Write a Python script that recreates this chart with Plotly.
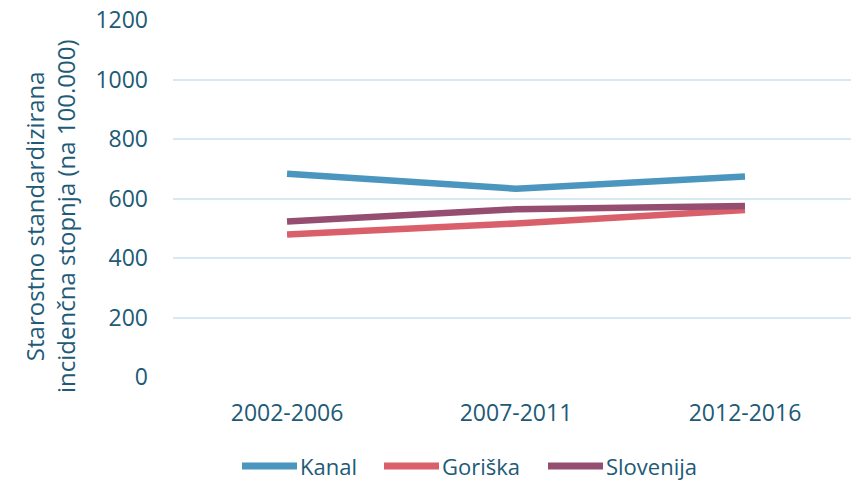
import plotly.graph_objects as go

categories = ["2002-2006", "2007-2011", "2012-2016"]
kanal = [683, 633, 674]
goriska = [479, 516, 561]
slovenija = [523, 564, 575]
series_names = ["Kanal", "Goriška", "Slovenija"]
series_colors = ["#4a96be", "#d9606a", "#954e70"]
y_ticks = [0, 200, 400, 600, 800, 1000, 1200]

FONT = "Open Sans"
TXT = "#215a76"

fig = go.Figure()
for name, vals, col in zip(series_names, [kanal, goriska, slovenija], series_colors):
    fig.add_trace(go.Scatter(x=[0, 1, 2], y=vals, mode="lines", name=name,
                             line=dict(color=col, width=6.5), showlegend=False))

# custom legend (long line samples like the reference)
leg_x = [242, 384, 548]
leg_y = -(466 - 377) / 357
for i, (name, col) in enumerate(zip(series_names, series_colors)):
    x0 = (leg_x[i] - 173) / 678
    fig.add_shape(type="line", xref="paper", yref="paper",
                  x0=x0, x1=x0 + 55 / 678, y0=leg_y, y1=leg_y,
                  line=dict(color=col, width=7))
    fig.add_annotation(xref="paper", yref="paper", x=x0 + 56 / 678, y=leg_y,
                       text=name, showarrow=False, xanchor="left", yanchor="middle",
                       font=dict(family=FONT, size=22, color=TXT))

fig.add_annotation(xref="paper", yref="paper", x=-(173 - 50) / 678, y=(377 - 216) / 357,
                   text="Starostno standardizirana<br>incidenčna stopnja (na 100.000)",
                   textangle=-90, showarrow=False, xanchor="center", yanchor="middle",
                   font=dict(family=FONT, size=24, color=TXT))

fig.update_layout(
    width=851, height=481,
    margin=dict(l=173, r=0, t=20, b=104),
    paper_bgcolor="white", plot_bgcolor="white",
    font=dict(family=FONT, size=22, color=TXT),
    showlegend=False,
    xaxis=dict(tickmode="array", tickvals=[0, 1, 2], ticktext=categories,
               range=[-0.498, 2.463], showgrid=False, zeroline=False, showline=False,
               ticks="", ticklabelstandoff=20,
               tickfont=dict(family=FONT, size=23, color=TXT)),
    yaxis=dict(range=[0, 1200], tickvals=y_ticks, showgrid=True, gridcolor="#d6e9f5",
               gridwidth=2, zeroline=False, showline=False, ticks="",
               ticklabelstandoff=24,
               tickfont=dict(family=FONT, size=23, color=TXT)),
)

fig.write_html("out.html", config={"displayModeBar": False},
               post_script="document.body.style.margin='0';document.body.style.overflow='hidden';")
